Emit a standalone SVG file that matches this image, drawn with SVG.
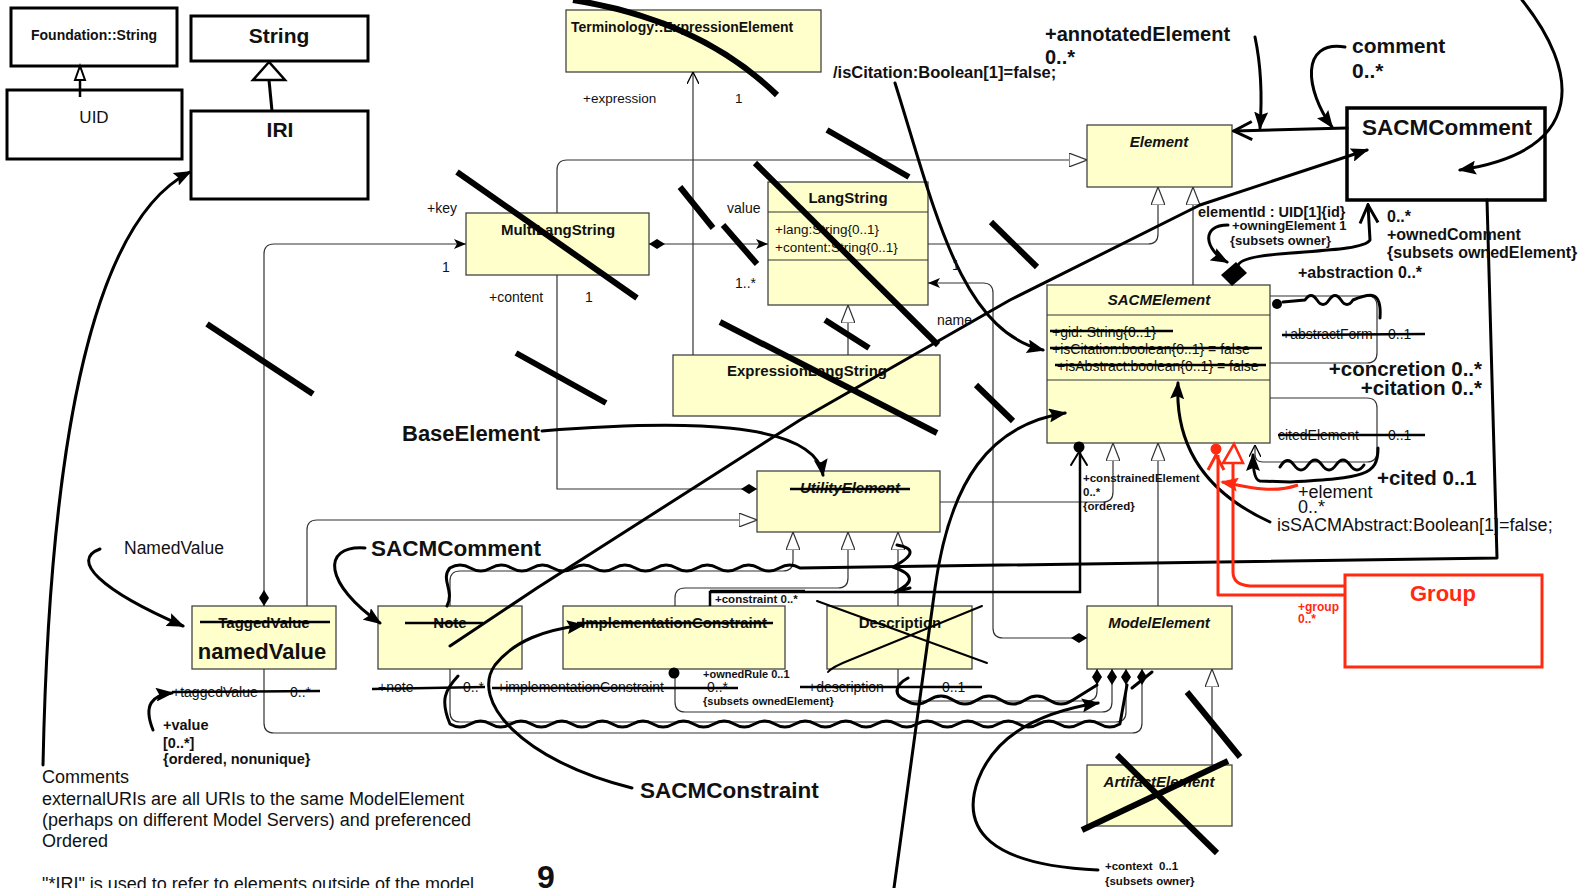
<svg xmlns="http://www.w3.org/2000/svg" width="1585" height="888" viewBox="0 0 1585 888">
<style>
text{font-family:"Liberation Sans",Arial,sans-serif;fill:#111}
.b{font-weight:bold}
.i{font-style:italic}
.box{fill:#ffffcc;stroke:#444;stroke-width:1.3}
.wbox{fill:#fff;stroke:#000;stroke-width:3}
.c{fill:none;stroke:#333;stroke-width:1.2}
.h{fill:none;stroke:#000;stroke-width:3;stroke-linecap:round;stroke-linejoin:round}
.t2{fill:none;stroke:#000;stroke-width:2;stroke-linecap:round}
.x{stroke:#000;stroke-width:6;stroke-linecap:butt}
.s{stroke:#000;stroke-width:2.5}
.red{fill:none;stroke:#ff2a10;stroke-width:3;stroke-linejoin:round}
.rt{fill:#ff2a10}
</style>
<defs>
<marker id="gen" viewBox="0 0 18 14" refX="18" refY="7" markerWidth="18" markerHeight="14" markerUnits="userSpaceOnUse" orient="auto"><path d="M0,0 L18,7 L0,14 z" fill="#fff" stroke="#333" stroke-width="1.2"/></marker>
<marker id="diaE" viewBox="0 0 16 10" refX="16" refY="5" markerWidth="16" markerHeight="10" markerUnits="userSpaceOnUse" orient="auto"><path d="M0,5 L8,0 L16,5 L8,10 z" fill="#000"/></marker>
<marker id="diaS" viewBox="0 0 16 10" refX="0" refY="5" markerWidth="16" markerHeight="10" markerUnits="userSpaceOnUse" orient="auto"><path d="M0,5 L8,0 L16,5 L8,10 z" fill="#000"/></marker>
<marker id="arr" viewBox="0 0 12 10" refX="12" refY="5" markerWidth="12" markerHeight="10" markerUnits="userSpaceOnUse" orient="auto"><path d="M0,0 L12,5 L0,10 L3,5 z" fill="#000"/></marker>
<marker id="vee" viewBox="0 0 12 12" refX="12" refY="6" markerWidth="12" markerHeight="12" markerUnits="userSpaceOnUse" orient="auto"><path d="M0,0 L12,6 L0,12" fill="none" stroke="#000" stroke-width="1.3"/></marker>
<marker id="harr" viewBox="0 0 18 14" refX="16" refY="7" markerWidth="18" markerHeight="14" markerUnits="userSpaceOnUse" orient="auto"><path d="M0,0 L18,7 L0,14 L3,7 z" fill="#000"/></marker>
<marker id="hvee" viewBox="0 0 22 22" refX="20" refY="11" markerWidth="22" markerHeight="22" markerUnits="userSpaceOnUse" orient="auto"><path d="M2,2 L20,11 L2,20" fill="none" stroke="#000" stroke-width="3"/></marker>
<marker id="rarr" viewBox="0 0 18 14" refX="16" refY="7" markerWidth="18" markerHeight="14" markerUnits="userSpaceOnUse" orient="auto"><path d="M0,0 L18,7 L0,14 L3,7 z" fill="#ff2a10"/></marker>
</defs>

<!-- Nodes -->
<g id="foundation-string"><rect class="wbox" x="11" y="8" width="166" height="58"/><text class="b" x="94" y="40" font-size="14" text-anchor="middle">Foundation::String</text></g>
<g id="uid"><rect class="wbox" x="7" y="90" width="175" height="69"/><text x="94" y="123" font-size="17" text-anchor="middle">UID</text></g>
<g id="string"><rect class="wbox" x="191" y="16" width="177" height="45"/><text class="b" x="279" y="43" font-size="21" text-anchor="middle">String</text></g>
<g id="iri"><rect class="wbox" x="191" y="111" width="177" height="88"/><text class="b" x="280" y="137" font-size="21" text-anchor="middle">IRI</text></g>

<g id="terminology"><rect class="box" x="566" y="10" width="255" height="62"/><text class="b" x="571" y="32" font-size="14">Terminology::ExpressionElement</text></g>
<g id="multilangstring"><rect class="box" x="466" y="213" width="183" height="62"/><text class="b" x="558" y="235" font-size="15" text-anchor="middle">MultiLangString</text></g>
<g id="langstring"><rect class="box" x="768" y="182" width="160" height="123"/><line class="c" x1="768" y1="212" x2="928" y2="212"/><line class="c" x1="768" y1="260" x2="928" y2="260"/><text class="b" x="848" y="203" font-size="15" text-anchor="middle">LangString</text><text x="775" y="234" font-size="13.5">+lang:String{0..1}</text><text x="775" y="252" font-size="13.5">+content:String{0..1}</text></g>
<g id="expressionlangstring"><rect class="box" x="673" y="355" width="267" height="61"/><text class="b" x="807" y="376" font-size="15" text-anchor="middle">ExpressionLangString</text></g>
<g id="element"><rect class="box" x="1087" y="125" width="145" height="62"/><text class="b i" x="1159" y="147" font-size="15" text-anchor="middle">Element</text></g>
<g id="sacmcomment-box"><rect x="1347" y="108" width="198" height="92" fill="#fff" stroke="#000" stroke-width="3.5"/><text class="b" x="1362" y="135" font-size="22.5">SACMComment</text></g>
<g id="sacmelement"><rect class="box" x="1047" y="285" width="223" height="158"/><line class="c" x1="1047" y1="315" x2="1270" y2="315"/><line class="c" x1="1047" y1="380" x2="1270" y2="380"/><text class="b i" x="1159" y="305" font-size="15" text-anchor="middle">SACMElement</text><text x="1052" y="337" font-size="14">+gid: String{0..1}</text><text x="1052" y="354" font-size="14">+isCitation:boolean{0..1} = false</text><text x="1057" y="371" font-size="14">+isAbstract:boolean{0..1} = false</text><line class="s" x1="1050" y1="331" x2="1173" y2="331"/><line class="s" x1="1050" y1="348" x2="1262" y2="348"/><line class="s" x1="1055" y1="365" x2="1266" y2="365"/></g>
<g id="utilityelement"><rect class="box" x="757" y="471" width="183" height="61"/><text class="b i" x="850" y="493" font-size="15" text-anchor="middle">UtilityElement</text><line class="s" x1="790" y1="489" x2="910" y2="489"/></g>
<g id="taggedvalue"><rect class="box" x="192" y="606" width="144" height="63"/><text class="b" x="264" y="628" font-size="15" text-anchor="middle">TaggedValue</text><line class="s" x1="200" y1="622" x2="330" y2="622"/><text class="b" x="262" y="659" font-size="22" text-anchor="middle">namedValue</text></g>
<g id="note"><rect class="box" x="378" y="606" width="144" height="63"/><text class="b" x="450" y="628" font-size="15" text-anchor="middle">Note</text><line class="s" x1="405" y1="623" x2="483" y2="623"/></g>
<g id="implementationconstraint"><rect class="box" x="563" y="606" width="222" height="63"/><text class="b" x="674" y="628" font-size="15" text-anchor="middle">ImplementationConstraint</text><line class="s" x1="577" y1="623" x2="773" y2="623"/></g>
<g id="description"><rect class="box" x="827" y="606" width="145" height="63"/><text class="b" x="900" y="628" font-size="15" text-anchor="middle">Description</text><line class="t2" x1="817" y1="601" x2="987" y2="663" stroke-width="2.5"/><path class="t2" d="M982,606 L850,660 Q832,667 828,672" stroke-width="2.5"/></g>
<g id="modelelement"><rect class="box" x="1087" y="606" width="145" height="63"/><text class="b i" x="1159" y="628" font-size="15" text-anchor="middle">ModelElement</text></g>
<g id="artifactelement"><rect class="box" x="1087" y="765" width="145" height="61"/><text class="b i" x="1159" y="787" font-size="15" text-anchor="middle">ArtifactElement</text></g>
<g id="group"><rect x="1345" y="575" width="197" height="92" fill="#fff" stroke="#ff2a10" stroke-width="3"/><text class="b rt" x="1443" y="601" font-size="22" text-anchor="middle" style="fill:#ff2a10">Group</text></g>

<!-- Connectors -->
<g id="connectors">
<line x1="80" y1="97" x2="80" y2="80" stroke="#000" stroke-width="2.5"/>
<path d="M80,66 L75,80 L85,80 z" fill="#fff" stroke="#000" stroke-width="2"/>
<line x1="272" y1="111" x2="269" y2="80" stroke="#000" stroke-width="3"/>
<path d="M269,62 L253,80 L285,80 z" fill="#fff" stroke="#000" stroke-width="2.5"/>

<path class="c" d="M557,213 V170 Q557,160 567,160 H1087" marker-end="url(#gen)"/>
<path class="c" d="M557,275 V489 H757" marker-end="url(#diaE)"/>
<path class="c" d="M264,606 V254 Q264,244 274,244 H466" marker-start="url(#diaS)" marker-end="url(#arr)"/>
<path class="c" d="M649,244 H768" marker-start="url(#diaS)" marker-end="url(#arr)"/>
<path class="c" d="M693,355 V72" marker-end="url(#vee)"/>
<path class="c" d="M928,244 H1148 Q1158,244 1158,234 V187" marker-end="url(#gen)"/>
<path class="c" d="M1193,285 V187" marker-end="url(#gen)"/>
<path class="c" d="M848,355 V305" marker-end="url(#gen)"/>
<path class="c" d="M1087,638 H1003 Q993,638 993,628 V293 Q993,283 983,283 H928" marker-start="url(#diaS)" marker-end="url(#arr)"/>
<path class="c" d="M940,502 H1103 Q1113,502 1113,492 V443" marker-end="url(#gen)"/>
<path class="c" d="M1158,606 V443" marker-end="url(#gen)"/>
<path class="c" d="M307,606 V530 Q307,520 317,520 H757" marker-end="url(#gen)"/>
<path class="c" d="M450,606 V581 Q450,571 460,571 H783 Q793,571 793,561 V532" marker-end="url(#gen)"/>
<path class="c" d="M675,606 V598 Q675,588 685,588 H838 Q848,588 848,578 V532" marker-end="url(#gen)"/>
<path class="c" d="M898,606 V532" marker-end="url(#gen)"/>
<path class="c" d="M1212,765 V669" marker-end="url(#gen)"/>
<path class="c" d="M898,669 V691 Q898,701 908,701 H1087 Q1097,701 1097,691 V669" marker-end="url(#diaE)"/>
<path class="c" d="M675,673 V702 Q675,712 685,712 H1102 Q1112,712 1112,702 V669" marker-end="url(#diaE)"/>
<path class="c" d="M450,669 V712 Q450,722 460,722 H1116 Q1126,722 1126,712 V669" marker-end="url(#diaE)"/>
<path class="c" d="M264,669 V723 Q264,733 274,733 H1132 Q1142,733 1142,723 V669" marker-end="url(#diaE)"/>
<path class="c" d="M1270,296 H1367 Q1377,296 1377,306 V353 Q1377,363 1367,363 H1270"/>
<path class="c" d="M1270,398 H1367 Q1377,398 1377,408 V452 Q1377,462 1367,462 H1263 Q1255,462 1255,454 V445" marker-end="url(#vee)"/>

<!-- constrainedElement -->
<path d="M1080,447 V592 H710 V606" fill="none" stroke="#000" stroke-width="2.5"/>
<line x1="710" y1="591" x2="805" y2="591" stroke="#000" stroke-width="2.5"/>
<circle cx="1079" cy="447" r="5.5" fill="#000"/>
<path class="t2" d="M1071,465 L1079,452 L1087,465"/>
<circle cx="674" cy="673" r="5.5" fill="#000"/>

<!-- hand-drawn arrows -->
<path class="h" d="M43,765 C48,520 75,230 190,172" marker-end="url(#harr)"/>
<path class="h" d="M100,549 C70,560 100,590 183,626" marker-end="url(#harr)"/>
<path class="h" d="M365,548 C320,545 325,585 380,623" marker-end="url(#harr)"/>
<path class="h" d="M542,431 C680,420 815,420 823,475" marker-end="url(#harr)"/>
<path class="h" d="M632,788 C520,760 470,700 495,665 C515,640 545,630 583,625" marker-end="url(#harr)"/>
<path class="h" d="M1098,870 C990,865 960,830 978,780 C995,735 1040,712 1098,703" marker-end="url(#harr)"/>
<path class="h" d="M894,888 L935,588 C950,480 990,425 1065,413" marker-end="url(#harr)"/>
<path class="h" d="M895,83 C935,210 960,330 1043,350" stroke-width="2.5" marker-end="url(#harr)"/>
<path class="h" d="M1270,522 C1200,490 1175,440 1178,383" marker-end="url(#harr)"/>
<path class="h" d="M1255,37 C1262,70 1262,100 1260,128" marker-end="url(#harr)"/>
<path class="h" d="M1345,47 C1300,40 1305,90 1332,127" marker-end="url(#harr)"/>
<path class="h" d="M1522,0 C1578,70 1590,150 1460,170" marker-end="url(#harr)"/>
<path class="h" d="M1228,225 C1200,225 1205,250 1227,262" marker-end="url(#harr)"/>
<path class="h" d="M1347,128 L1234,131" marker-end="url(#hvee)"/>
<path d="M1221,275 L1236,262 L1247,273 L1232,286 z" fill="#000"/>
<path class="h" d="M1238,266 C1240,248 1360,256 1370,240 L1368,205" marker-end="url(#hvee)"/>
<path class="h" d="M450,646 L537,588 L800,420 L1010,300 L1200,205 L1367,150" stroke-width="2.5" marker-end="url(#harr)"/>
<path class="h" d="M153,730 C143,705 152,695 172,693" marker-end="url(#harr)"/>
<path class="h" d="M1378,448 C1378,475 1365,478 1290,482 L1260,481 Q1253,480 1253,455" marker-end="url(#harr)"/>
<circle cx="1277" cy="304" r="5" fill="#000"/>
<path class="h" d="M1283,302 L1305,300 q6,-9 12,0 t12,0 t12,0 t12,0 C1370,293 1382,290 1380,318"/>
<path class="h" d="M1280,467 q7,-12 14,-2 t14,0 t14,0 t14,0 t14,0 t14,0"/>

<!-- big hand-drawn loop -->
<path class="h" d="M1487,200 L1497,558 L800,568 q-10.3,-6 -20.6,0 t-20.6,0 t-20.6,0 t-20.6,0 t-20.6,0 t-20.6,0 t-20.6,0 t-20.6,0 t-20.6,0 t-20.6,0 t-20.6,0 t-20.6,0 t-20.6,0 t-20.6,0 t-20.6,0 t-20.6,0 t-20.6,0 C440,580 455,590 447,606"/>
<path class="h" d="M458,676 C445,690 440,700 450,724 q10,6 20.3,0 t20.3,0 t20.3,0 t20.3,0 t20.3,0 t20.3,0 t20.3,0 t20.3,0 t20.3,0 t20.3,0 t20.3,0 t20.3,0 t20.3,0 t20.3,0 t20.3,0 t20.3,0 t20.3,0 t20.3,0 t20.3,0 t20.3,0 t20.3,0 t20.3,0 t20.3,0 t20.3,0 t20.3,0 t20.3,0 t20.3,0 t20.3,0 t20.3,0 t20.3,0 t20.3,0 t20.3,0 t20.3,0 L1127,685"/>
<path class="h" d="M908,678 C895,685 893,695 905,700 q12,8 24,0 t24,0 t24,0 t24,0 t24,0 t24,0 t24,0 L1097,685"/>
<path class="h" d="M897,545 Q925,550 893,567 Q925,578 895,592 L910,588"/>
<path class="h" d="M1132,688 L1152,672"/>

<!-- red -->
<circle cx="1216" cy="449" r="5.5" fill="#ff2a10"/>
<path class="red" d="M1208,470 L1216,455 L1224,470"/>
<path class="red" d="M1218,455 V595 H1345"/>
<path d="M1234,444 L1223,463 L1243,463 z" fill="#fff" stroke="#ff2a10" stroke-width="2.5"/>
<path class="red" d="M1233,463 V572 Q1233,585 1250,586 H1345"/>
<path class="red" d="M1298,485 C1270,495 1240,485 1222,482" marker-end="url(#rarr)"/>

<!-- thick strike marks -->
<line class="x" x1="457" y1="172" x2="637" y2="298"/>
<line class="x" x1="680" y1="187" x2="713" y2="228"/>
<line class="x" x1="723" y1="225" x2="757" y2="264"/>
<line class="x" x1="755" y1="163" x2="938" y2="345"/>
<line class="x" x1="827" y1="130" x2="909" y2="177"/>
<line class="x" x1="991" y1="222" x2="1037" y2="267"/>
<line class="x" x1="207" y1="324" x2="313" y2="394"/>
<line class="x" x1="516" y1="353" x2="606" y2="403"/>
<line class="x" x1="720" y1="322" x2="937" y2="433"/>
<line class="x" x1="825" y1="320" x2="869" y2="348"/>
<line class="x" x1="976" y1="385" x2="1013" y2="421"/>
<line class="x" x1="1187" y1="692" x2="1240" y2="757"/>
<line class="x" x1="1082" y1="830" x2="1228" y2="761"/>
<line class="x" x1="1117" y1="755" x2="1217" y2="853"/>
<path d="M573,0 Q700,20 777,95" fill="none" stroke="#000" stroke-width="6"/>
</g>

<!-- labels -->
<g id="labels">
<text x="583" y="103" font-size="13.5">+expression</text>
<text x="735" y="103" font-size="13.5">1</text>
<text x="427" y="213" font-size="14">+key</text>
<text x="442" y="272" font-size="14">1</text>
<text x="727" y="213" font-size="14">value</text>
<text x="735" y="288" font-size="14">1..*</text>
<text x="489" y="302" font-size="14">+content</text>
<text x="585" y="302" font-size="14">1</text>
<text x="952" y="270" font-size="14">1</text>
<text x="937" y="325" font-size="14">name</text>
<text class="b" x="1045" y="41" font-size="20">+annotatedElement</text>
<text class="b" x="1045" y="64" font-size="20">0..*</text>
<text class="b" x="833" y="78" font-size="16.5">/isCitation:Boolean[1]=false;</text>
<text class="b" x="1352" y="53" font-size="21">comment</text>
<text class="b" x="1352" y="78" font-size="21">0..*</text>
<text class="b" x="1198" y="217" font-size="14.5">elementId : UID[1]{id}</text>
<text class="b" x="1232" y="230" font-size="13">+owningElement  1</text>
<text class="b" x="1230" y="245" font-size="13">{subsets owner}</text>
<text class="b" x="1387" y="222" font-size="16">0..*</text>
<text class="b" x="1387" y="240" font-size="16">+ownedComment</text>
<text class="b" x="1387" y="258" font-size="16">{subsets ownedElement}</text>
<text class="b" x="1298" y="278" font-size="16">+abstraction 0..*</text>
<text x="1282" y="339" font-size="14">+abstractForm</text>
<text x="1388" y="339" font-size="14">0..1</text>
<line class="s" x1="1282" y1="335" x2="1425" y2="334"/>
<text class="b" x="1482" y="376" font-size="20.5" text-anchor="end">+concretion 0..*</text>
<text class="b" x="1482" y="395" font-size="20.5" text-anchor="end">+citation 0..*</text>
<text x="1278" y="440" font-size="14">citedElement</text>
<text x="1388" y="440" font-size="14">0..1</text>
<line class="s" x1="1278" y1="435" x2="1425" y2="435"/>
<text class="b" x="1377" y="485" font-size="20.5">+cited 0..1</text>
<text x="1298" y="498" font-size="18">+element</text>
<text x="1298" y="513" font-size="18">0..*</text>
<text x="1277" y="531" font-size="18">isSACMAbstract:Boolean[1]=false;</text>
<text class="b" x="1298" y="611" font-size="12" style="fill:#ff2a10">+group</text>
<text class="b" x="1298" y="623" font-size="12" style="fill:#ff2a10">0..*</text>
<text class="b" x="1083" y="482" font-size="11.5">+constrainedElement</text>
<text class="b" x="1083" y="496" font-size="11.5">0..*</text>
<text class="b" x="1083" y="510" font-size="11.5">{ordered}</text>
<text class="b" x="715" y="603" font-size="11.5">+constraint 0..*</text>
<text class="b" x="703" y="678" font-size="11">+ownedRule 0..1</text>
<text class="b" x="703" y="705" font-size="11">{subsets ownedElement}</text>
<text class="b" x="1105" y="870" font-size="11.5" xml:space="preserve">+context  0..1</text>
<text class="b" x="1105" y="885" font-size="11.5">{subsets owner}</text>
<text x="172" y="697" font-size="14">+taggedValue</text>
<text x="290" y="697" font-size="14">0..*</text>
<line class="s" x1="172" y1="692" x2="320" y2="691"/>
<text x="378" y="692" font-size="14">+note</text>
<text x="463" y="692" font-size="14">0..*</text>
<line class="s" x1="372" y1="689" x2="485" y2="687"/>
<text x="497" y="692" font-size="14">+implementationConstraint</text>
<text x="707" y="692" font-size="14">0..*</text>
<line class="s" x1="492" y1="688" x2="738" y2="688"/>
<text x="808" y="692" font-size="14">+description</text>
<text x="942" y="692" font-size="14">0..1</text>
<line class="s" x1="800" y1="687" x2="982" y2="687"/>
<text class="b" x="163" y="730" font-size="14.5">+value</text>
<text class="b" x="163" y="748" font-size="14.5">[0..*]</text>
<text class="b" x="163" y="764" font-size="14.5">{ordered, nonunique}</text>
<text x="124" y="554" font-size="17.5">NamedValue</text>
<text class="b" x="402" y="441" font-size="22">BaseElement</text>
<text class="b" x="371" y="556" font-size="22.5">SACMComment</text>
<text class="b" x="640" y="798" font-size="22.5">SACMConstraint</text>
<text class="b" x="537" y="888" font-size="32">9</text>
<text x="42" y="783" font-size="18">Comments</text>
<text x="42" y="805" font-size="18">externalURIs are all URIs to the same ModelElement</text>
<text x="42" y="826" font-size="18">(perhaps on different Model Servers) and preferenced</text>
<text x="42" y="847" font-size="18">Ordered</text>
<text x="42" y="890" font-size="18">"*IRI" is used to refer to elements outside of the model</text>
</g>
</svg>
